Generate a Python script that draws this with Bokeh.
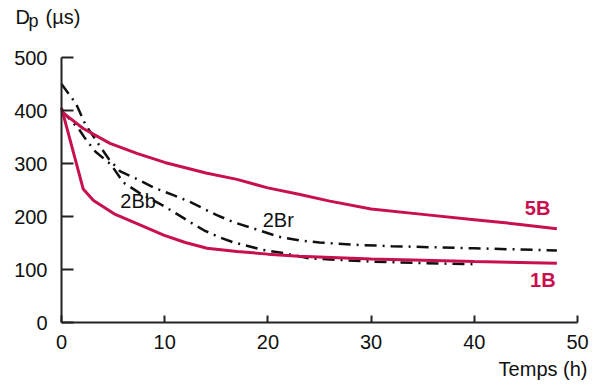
from bokeh.plotting import figure
from bokeh.models import Label, Range1d, FixedTicker, LinearAxis
from bokeh.embed import file_html
from bokeh.resources import INLINE

# ---- data ----
t_5B = [0, 2.1, 4.7, 7.3, 10, 14, 17, 20, 23, 26, 30, 35, 40, 44, 48]
d_5B = [398, 366, 338, 319, 302, 282, 270, 254, 242, 229, 214, 204, 194, 186, 177]

t_1B = [0, 2.1, 3.1, 5.1, 7.6, 9.9, 12, 14.1, 17, 20, 23, 30, 40, 48]
d_1B = [405, 252, 230, 205, 184, 165, 151, 140, 134, 129, 125, 120, 115, 112]

t_2Br = [0, 1.4, 2.3, 3.75, 4.6, 5.7, 7.6, 9, 10.9, 12.5, 15, 16.7, 18.5, 21, 23, 25, 28, 32, 40, 48]
d_2Br = [450, 413, 374, 332, 308, 285, 268, 254, 240, 227, 203, 189, 178, 162, 155, 151, 147, 144, 140, 136]

t_2Bb = [0, 1.65, 2.3, 3.3, 4.8, 6, 7.5, 9.8, 11, 12.5, 13.8, 15.4, 16.7, 19.5, 21.5, 24, 27, 30, 35, 40]
d_2Bb = [400, 366, 347, 322, 298, 264, 245, 221, 207, 189, 174, 160, 151, 137, 131, 121, 118, 115, 112, 110]

x_ticks = [0, 10, 20, 30, 40, 50]
y_ticks = [0, 100, 200, 300, 400, 500]

RED = "#C8104E"
FONT = "Liberation Sans"

# plot frame covers the whole canvas; axes sit at data 0 with bounds
W, H = 595, 387
FX0, FX1 = 61, 577    # pixel of x=0 and x=50
FY0, FY1 = 322, 57    # pixel of y=0 and y=500
sx = (FX1 - FX0) / 50.0
sy = (FY0 - FY1) / 500.0

p = figure(width=W, height=H, output_backend="svg", toolbar_location=None,
           x_axis_location=None, y_axis_location=None,
           x_range=Range1d(-FX0 / sx, 50 + (W - FX1) / sx),
           y_range=Range1d(-(H - FY0) / sy, FY0 / sy),
           min_border=0)
p.outline_line_color = None
p.xgrid.visible = False
p.ygrid.visible = False
p.background_fill_color = "white"
p.border_fill_color = "white"

xa = LinearAxis(fixed_location=0, bounds=(0, 50), ticker=FixedTicker(ticks=x_ticks))
ya = LinearAxis(fixed_location=0, bounds=(0, 500), ticker=FixedTicker(ticks=y_ticks))
for ax in (xa, ya):
    ax.axis_line_width = 2
    ax.axis_line_color = "#222222"
    ax.major_tick_line_width = 2
    ax.major_tick_line_color = "#222222"
    ax.minor_tick_line_color = None
    ax.major_tick_out = 0
    ax.major_label_text_font = FONT
    ax.major_label_text_font_size = "20px"
    ax.major_label_text_color = "#111111"
xa.major_tick_in = 7
ya.major_tick_in = 12
ya.major_label_standoff = 14
xa.major_label_standoff = 12
p.add_layout(xa, "below")
p.add_layout(ya, "left")

p.line(t_2Br, d_2Br, line_color="#111111", line_width=2.5, line_dash="12 6 2 6")
p.line(t_2Bb, d_2Bb, line_color="#111111", line_width=2.5, line_dash="12 6 2 6")
p.line(t_5B, d_5B, line_color=RED, line_width=3)
p.line(t_1B, d_1B, line_color=RED, line_width=3)

def lab(x, y, text, size="20px", color="#111111", style="normal", units="data", **kw):
    p.add_layout(Label(x=x, y=y, x_units=units, y_units=units, text=text,
                       text_font=FONT, text_font_size=size, text_color=color,
                       text_font_style=style, **kw))

lab(5.7, 208, "2Bb")
lab(19.5, 173, "2Br")
lab(44.9, 196, "5B", color=RED, style="bold")
lab(45.4, 60, "1B", color=RED, style="bold")

# axis titles (screen px, origin at bottom-left of the canvas-sized frame)
lab(15, 360, "D", units="screen")
lab(28, 357, "p", size="18px", units="screen")
lab(45, 360, "(µs)", units="screen")
lab(587, 8, "Temps (h)", units="screen", text_align="right")

open("out.html", "w").write(file_html(p, INLINE))
